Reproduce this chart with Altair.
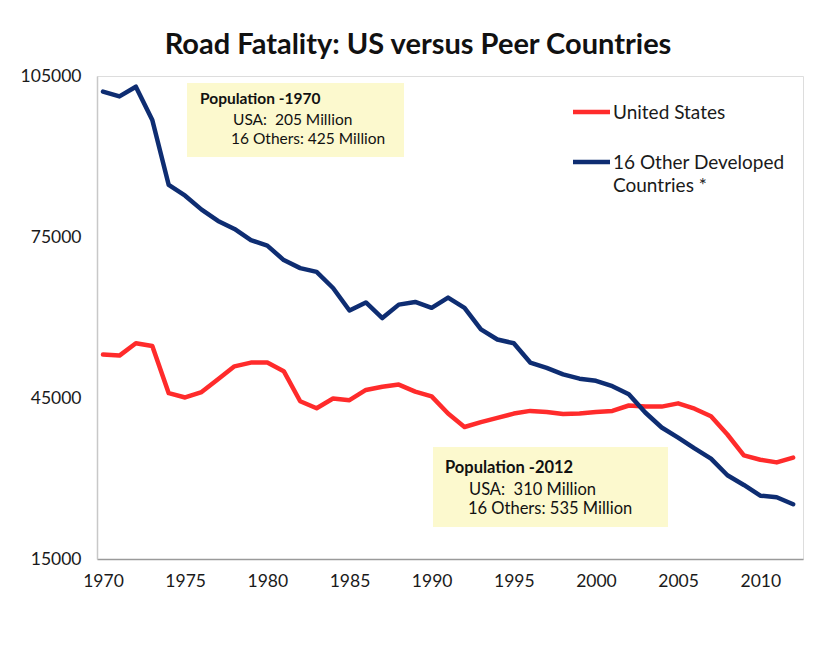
import altair as alt
import pandas as pd

# ---- data ----
years = list(range(1970, 2013))
us_fatalities = [
    53100, 52900, 55200, 54700, 45900, 45100, 46100, 48500, 50900, 51600,
    51600, 50000, 44400, 43100, 44900, 44600, 46500, 47100, 47500, 46200,
    45300, 42100, 39600, 40500, 41300, 42100, 42600, 42400, 42000, 42100,
    42400, 42600, 43600, 43400, 43400, 44000, 43000, 41600, 38200, 34300,
    33500, 33000, 33900,
]
others_fatalities = [
    102100, 101200, 103000, 96800, 84700, 82700, 80100, 78000, 76500, 74400,
    73400, 70700, 69200, 68500, 65500, 61300, 62800, 59900, 62400, 62900,
    61800, 63700, 61800, 57800, 55900, 55200, 51600, 50600, 49400, 48600,
    48200, 47200, 45700, 42300, 39500, 37600, 35600, 33700, 30600, 28800,
    26800, 26500, 25200,
]
series_names = ["United States", "16 Other Developed\nCountries *"]
series_colors = ["#FF2B2B", "#0E2D72"]
y_ticks = [15000, 45000, 75000, 105000]
x_ticks = [1970, 1975, 1980, 1985, 1990, 1995, 2000, 2005, 2010]
title_text = "Road Fatality: US versus Peer Countries"
note_1970 = ["Population -1970", "USA:\u00a0 205 Million", "16 Others: 425 Million"]
note_2012 = ["Population -2012", "USA:\u00a0 310 Million", "16 Others: 535 Million"]

FONT = "Lato"

df = pd.DataFrame({
    "year": years * 2,
    "fatalities": us_fatalities + others_fatalities,
    "series": [series_names[0]] * len(years) + [series_names[1]] * len(years),
})

W, H = 706, 483

x_enc = alt.X("year:Q", scale=alt.Scale(domain=[1969.635, 2012.6], nice=False, zero=False),
              axis=alt.Axis(values=x_ticks, format="d", title=None, grid=False, ticks=False,
                            domainColor="#9a9a9a", domainWidth=1.5, labelFont=FONT,
                            labelFontSize=17.5, labelColor="#1a1a1a", labelPadding=13))
y_enc = alt.Y("fatalities:Q", scale=alt.Scale(domain=[15000, 105000], nice=False, zero=False),
              axis=alt.Axis(values=y_ticks, format="d", title=None, grid=False, ticks=False,
                            domainColor="#c8c8c8", domainWidth=1.5, labelFont=FONT,
                            labelFontSize=17.5, labelColor="#1a1a1a", labelPadding=16))

color_scale = alt.Scale(domain=series_names, range=series_colors)

lines = alt.Chart(df).mark_line(strokeWidth=4.5, strokeJoin="round", strokeCap="round").encode(
    x=x_enc, y=y_enc,
    color=alt.Color("series:N", scale=color_scale, legend=None),
    detail="series:N",
)

box_df = pd.DataFrame({"b": [0]})

# ---- manual legend ----
legend_layers = []
for name, col, ly in zip(series_names, series_colors, [36, 86]):
    legend_layers.append(
        alt.Chart(box_df).mark_rule(strokeWidth=4.5, color=col).encode(
            x=alt.value(476), x2=alt.value(513), y=alt.value(ly))
    )
    legend_layers.append(
        alt.Chart(box_df).mark_text(align="left", baseline="middle", font=FONT, fontSize=19,
                                    color="#1a1a1a", lineBreak="\n", lineHeight=23,
                                    text=name).encode(
            x=alt.value(516), y=alt.value(ly + 1))
    )

# ---- annotation boxes ----
box1 = alt.Chart(box_df).mark_rect(color="#FCF9CE").encode(
    x=alt.value(90), x2=alt.value(307), y=alt.value(7), y2=alt.value(81))
box2 = alt.Chart(box_df).mark_rect(color="#FCF9CE").encode(
    x=alt.value(336), x2=alt.value(571), y=alt.value(371), y2=alt.value(451))

def note(lines_, xs, ys, size):
    layers = []
    for i, (t, xx, yy) in enumerate(zip(lines_, xs, ys)):
        layers.append(
            alt.Chart(box_df).mark_text(align="left", baseline="middle", font=FONT, fontSize=size,
                                        fontWeight="bold" if i == 0 else "normal",
                                        color="#111111", text=t).encode(
                x=alt.value(xx), y=alt.value(yy))
        )
    return layers

notes1 = note(note_1970, [103, 136, 134], [23, 44, 63], 15.5)
notes2 = note(note_2012, [348, 372, 371], [392, 414, 433], 16.5)

title = alt.Chart(box_df).mark_text(align="center", baseline="middle", font=FONT, fontSize=29,
                                    fontWeight="bold", color="#111111", text=title_text).encode(
    x=alt.value(321), y=alt.value(-31))

chart = alt.layer(box1, box2, lines, *legend_layers, title, *notes1, *notes2).properties(
    width=W, height=H,
    autosize=alt.AutoSizeParams(type="none"),
    padding={"left": 89, "top": 68, "right": 2, "bottom": 60},
).configure_view(stroke=None).configure(background="white")

chart.save("out.html", embed_options={"renderer": "svg", "actions": False})
